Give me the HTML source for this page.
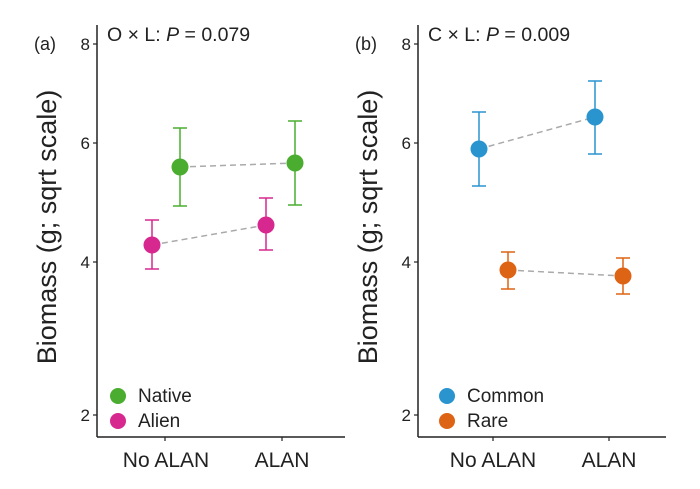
<!DOCTYPE html>
<html><head><style>body{margin:0;background:#fff}</style></head><body>
<svg width="700" height="484" xmlns="http://www.w3.org/2000/svg" font-family="Liberation Sans, Arial, sans-serif">
<rect width="700" height="484" fill="#fff"/>
<!-- Panel a -->
<g>
<line x1="97" y1="25" x2="97" y2="437" stroke="#222" stroke-width="1.5"/>
<line x1="97" y1="437" x2="345" y2="437" stroke="#222" stroke-width="1.5"/>
<g stroke="#222" stroke-width="1.2">
<line x1="93" y1="44" x2="97" y2="44"/><line x1="93" y1="143" x2="97" y2="143"/><line x1="93" y1="262" x2="97" y2="262"/><line x1="93" y1="415" x2="97" y2="415"/>
<line x1="165" y1="437" x2="165" y2="441"/><line x1="282" y1="437" x2="282" y2="441"/>
</g>
<g font-size="17" fill="#222" text-anchor="end">
<text x="90" y="50">8</text><text x="90" y="149">6</text><text x="90" y="268">4</text><text x="90" y="421">2</text>
</g>
<text x="34" y="50" font-size="18" fill="#222">(a)</text>
<text x="107" y="41" font-size="19.5" fill="#222">O × L: <tspan font-style="italic">P</tspan> = 0.079</text>
<text transform="translate(56,227) rotate(-90)" font-size="27" fill="#222" text-anchor="middle">Biomass (g; sqrt scale)</text>
<g font-size="21" fill="#222" text-anchor="middle"><text x="166" y="467">No ALAN</text><text x="282" y="467">ALAN</text></g>
<g stroke="#aaa" stroke-width="1.5" stroke-dasharray="6,4"><line x1="180" y1="167" x2="295" y2="163"/><line x1="152" y1="245" x2="266" y2="225"/></g>
<g stroke="#4aad2f" stroke-width="1.5" fill="none">
<path d="M180 128V206M173 128H187M173 206H187"/><path d="M295 121V205M288 121H302M288 205H302"/>
</g>
<g stroke="#d6288f" stroke-width="1.5" fill="none">
<path d="M152 220V269M145 220H159M145 269H159"/><path d="M266 198V250M259 198H273M259 250H273"/>
</g>
<circle cx="180" cy="167" r="8.5" fill="#4aad2f"/><circle cx="295" cy="163" r="8.5" fill="#4aad2f"/>
<circle cx="152" cy="245" r="8.5" fill="#d6288f"/><circle cx="266" cy="225" r="8.5" fill="#d6288f"/>
<circle cx="118" cy="396" r="8" fill="#4aad2f"/><circle cx="118" cy="421" r="8" fill="#d6288f"/>
<g font-size="19" fill="#222"><text x="138" y="402">Native</text><text x="138" y="427">Alien</text></g>
</g>
<!-- Panel b -->
<g>
<line x1="418" y1="25" x2="418" y2="437" stroke="#222" stroke-width="1.5"/>
<line x1="418" y1="437" x2="666" y2="437" stroke="#222" stroke-width="1.5"/>
<g stroke="#222" stroke-width="1.2">
<line x1="414" y1="44" x2="418" y2="44"/><line x1="414" y1="143" x2="418" y2="143"/><line x1="414" y1="262" x2="418" y2="262"/><line x1="414" y1="415" x2="418" y2="415"/>
<line x1="493" y1="437" x2="493" y2="441"/><line x1="609" y1="437" x2="609" y2="441"/>
</g>
<g font-size="17" fill="#222" text-anchor="end">
<text x="411" y="50">8</text><text x="411" y="149">6</text><text x="411" y="268">4</text><text x="411" y="421">2</text>
</g>
<text x="355" y="50" font-size="18" fill="#222">(b)</text>
<text x="428" y="41" font-size="19.5" fill="#222">C × L: <tspan font-style="italic">P</tspan> = 0.009</text>
<text transform="translate(377,227) rotate(-90)" font-size="27" fill="#222" text-anchor="middle">Biomass (g; sqrt scale)</text>
<g font-size="21" fill="#222" text-anchor="middle"><text x="493" y="467">No ALAN</text><text x="609" y="467">ALAN</text></g>
<g stroke="#aaa" stroke-width="1.5" stroke-dasharray="6,4"><line x1="479" y1="149" x2="595" y2="117"/><line x1="508" y1="270" x2="623" y2="276"/></g>
<g stroke="#2a94cf" stroke-width="1.5" fill="none">
<path d="M479 112V186M472 112H486M472 186H486"/><path d="M595 81V154M588 81H602M588 154H602"/>
</g>
<g stroke="#dd6414" stroke-width="1.5" fill="none">
<path d="M508 252V289M501 252H515M501 289H515"/><path d="M623 258V294M616 258H630M616 294H630"/>
</g>
<circle cx="479" cy="149" r="8.5" fill="#2a94cf"/><circle cx="595" cy="117" r="8.5" fill="#2a94cf"/>
<circle cx="508" cy="270" r="8.5" fill="#dd6414"/><circle cx="623" cy="276" r="8.5" fill="#dd6414"/>
<circle cx="447" cy="396" r="8" fill="#2a94cf"/><circle cx="447" cy="421" r="8" fill="#dd6414"/>
<g font-size="19" fill="#222"><text x="467" y="402">Common</text><text x="467" y="427">Rare</text></g>
</g>
</svg>
</body></html>
